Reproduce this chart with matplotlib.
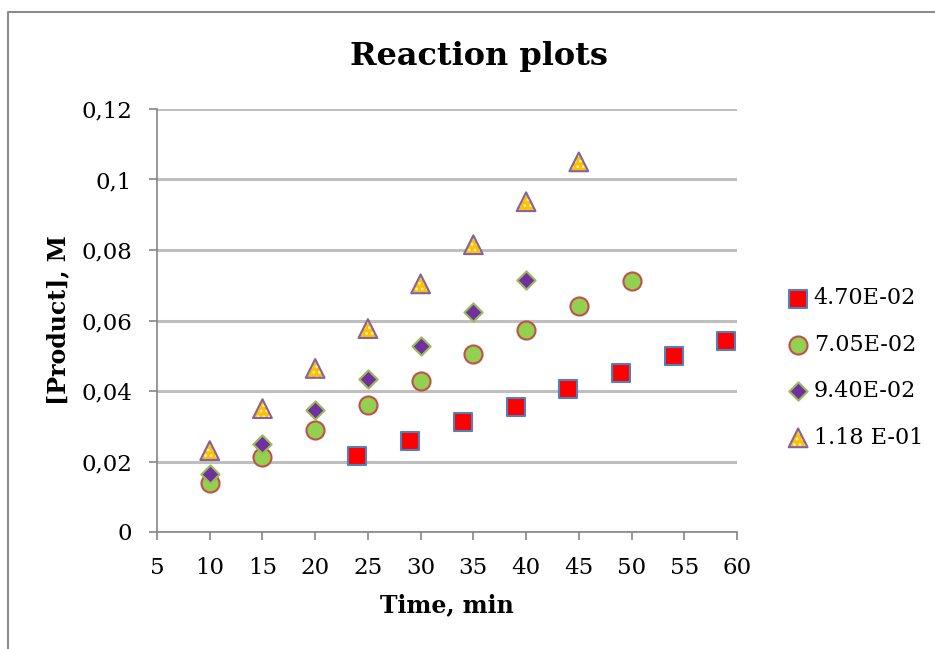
import numpy as np
import matplotlib
matplotlib.use('Agg')
import matplotlib.pyplot as plt
from matplotlib.lines import Line2D
from matplotlib.legend_handler import HandlerTuple

plt.rcParams['font.family'] = ['DejaVu Serif']
plt.rcParams['hatch.linewidth'] = 1.2

# series data
t1 = [24, 29, 34, 39, 44, 49, 54, 59]
p1 = [0.0216, 0.0259, 0.0311, 0.0354, 0.0406, 0.0452, 0.0500, 0.0543]

t2 = [10, 15, 20, 25, 30, 35, 40, 45, 50]
p2 = [0.0140, 0.0212, 0.0290, 0.0360, 0.0429, 0.0505, 0.0574, 0.0640, 0.0712]

t3 = [10, 15, 20, 25, 30, 35, 40]
p3 = [0.0165, 0.0251, 0.0345, 0.0434, 0.0528, 0.0624, 0.0716]

t4 = [10, 15, 20, 25, 30, 35, 40, 45]
p4 = [0.0231, 0.0350, 0.0464, 0.0577, 0.0704, 0.0815, 0.0937, 0.1050]

labels = ['4.70E-02', '7.05E-02', '9.40E-02', '1.18 E-01']
yticks = [0, 0.02, 0.04, 0.06, 0.08, 0.1, 0.12]
ytick_labels = ['0', '0,02', '0,04', '0,06', '0,08', '0,1', '0,12']
xticks = list(range(5, 61, 5))

fig = plt.figure(figsize=(9.35, 6.49), dpi=100)
ax = fig.add_axes([157 / 935, 1 - 532 / 649, 580 / 935, 423 / 649])

# outer chart border (Excel chart area)
fig.add_artist(Line2D([8 / 935, 8 / 935, 1], [0, 1 - 12 / 649, 1 - 12 / 649],
                      transform=fig.transFigure, color='#8c8c8c', lw=1.5))

s1 = ax.scatter(t1, p1, marker='s', s=12.5 ** 2, facecolor='#FF0000',
                edgecolor='#4F81BD', linewidths=1.5, zorder=3)
s2 = ax.scatter(t2, p2, marker='o', s=13 ** 2, facecolor='#92D050',
                edgecolor='#C0504D', linewidths=1.5, zorder=4)
s3 = ax.scatter(t3, p3, marker='D', s=9.3 ** 2, facecolor='#7030A0',
                edgecolor='#9BBB59', linewidths=1.5, zorder=5)
s4a = ax.scatter(t4, p4, marker='^', s=13.5 ** 2, facecolor='#FFC000',
                 edgecolor='#FFF2C0', linewidths=0, hatch='...', zorder=6)
s4b = ax.scatter(t4, p4, marker='^', s=13.5 ** 2, facecolor='none',
                 edgecolor='#8064A2', linewidths=1.5, zorder=7)

ax.set_xlim(5, 60)
ax.set_ylim(0, 0.12)
ax.set_xticks(xticks)
ax.set_xticklabels([str(v) for v in xticks])
ax.set_yticks(yticks)
ax.set_yticklabels(ytick_labels)

ax.grid(axis='y', color='#BFBFBF', lw=2.2, zorder=0)
ax.set_axisbelow(True)
for side in ['top', 'right']:
    ax.spines[side].set_visible(False)
for side in ['left', 'bottom']:
    ax.spines[side].set_color('#868686')
    ax.spines[side].set_linewidth(1.2)
ax.tick_params(axis='both', direction='out', length=6, width=1.2,
               color='#868686', labelsize=16.5, pad=12)

fig.text(479 / 935, 1 - 57 / 649, 'Reaction plots', fontsize=23,
         fontweight='bold', ha='center', va='center')
ax.set_xlabel('Time, min', fontsize=17, fontweight='bold', labelpad=10)
ax.set_ylabel('[Product], M', fontsize=17, fontweight='bold', labelpad=8)

fig.legend([s1, s2, s3, (s4a, s4b)], labels,
           handler_map={tuple: HandlerTuple(ndivide=1)},
           loc='center left', bbox_to_anchor=(787 / 935, 1 - 368 / 649),
           frameon=False, fontsize=16, borderpad=0, borderaxespad=0,
           handlelength=1.0, handletextpad=0.2, labelspacing=1.1,
           scatterpoints=1)

fig.savefig('out.png', dpi=100)
